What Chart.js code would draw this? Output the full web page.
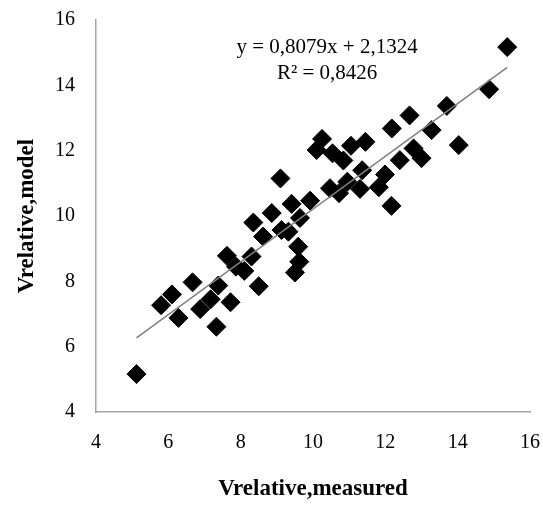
<!DOCTYPE html>
<html>
<head>
<meta charset="utf-8">
<script src="https://cdn.jsdelivr.net/npm/chart.js@4.4.1/dist/chart.umd.min.js"></script>
<style>
html, body { margin: 0; padding: 0; background: #fff; }
#wrap { width: 543px; height: 505px; }
</style>
</head>
<body>
<div id="wrap"><canvas id="scatter" width="543" height="505"></canvas></div>
<script>
// values
const measured = [5.12, 5.8, 6.1, 6.28, 6.67, 6.88, 7.17, 7.38, 7.33, 7.72,
    7.62, 7.87, 8.1, 8.3, 8.5, 8.35, 8.62, 8.86, 9.1, 9.13,
    9.32, 9.41, 9.64, 9.59, 9.62, 9.5, 9.92, 10.1, 10.25, 10.54,
    10.84, 11.05, 11.45, 10.47, 10.72, 10.95, 11.3, 11.36, 11.82, 11.99,
    12.17, 12.18, 12.4, 12.78, 13.0, 12.67, 13.28, 13.7, 14.03, 14.87, 15.37];
const model = [5.16, 7.27, 7.6, 6.88, 7.97, 7.15, 7.45, 7.87, 6.61, 7.36,
    8.78, 8.45, 8.32, 8.76, 7.85, 9.8, 9.37, 10.09, 11.15, 9.57,
    9.52, 10.37, 9.94, 9.06, 8.6, 8.27, 10.47, 12.02, 12.36, 11.92,
    11.7, 12.15, 12.27, 10.85, 10.7, 11.05, 10.83, 11.4, 10.88, 11.27,
    10.31, 12.68, 11.71, 12.07, 11.77, 13.08, 12.63, 13.37, 12.17, 13.88, 15.17];
const axisTicks = [4, 6, 8, 10, 12, 14, 16];
const slope = 0.8079;
const intercept = 2.1324;
const eqLines = ["y = 0,8079x + 2,1324", "R\u00b2 = 0,8426"];
const eqAnchor = [10.39, 15.17, 14.35]; // x, y of line 1, y of line 2 (data units)

const serif = "'Liberation Serif', 'Times New Roman', serif";

const points = measured.map((x, i) => ({ x: x, y: model[i] }));
const xMin = Math.min(...measured), xMax = Math.max(...measured);
const trend = [xMin, xMax].map(x => ({ x: x, y: slope * x + intercept }));

const equationLabel = {
    id: "equationLabel",
    afterDatasetsDraw(c) {
        const ctx = c.ctx;
        const xs = c.scales.x, ys = c.scales.y;
        ctx.save();
        ctx.fillStyle = "#000";
        ctx.font = "21px " + serif;
        ctx.textAlign = "center";
        ctx.textBaseline = "middle";
        ctx.fillText(eqLines[0], xs.getPixelForValue(eqAnchor[0]), ys.getPixelForValue(eqAnchor[1]));
        ctx.fillText(eqLines[1], xs.getPixelForValue(eqAnchor[0]), ys.getPixelForValue(eqAnchor[2]));
        ctx.restore();
    }
};

function axisOpts(title, isY) {
    return {
        type: "linear",
        min: axisTicks[0],
        max: axisTicks[axisTicks.length - 1],
        afterBuildTicks: s => { s.ticks = axisTicks.map(v => ({ value: v })); },
        afterFit: s => {
            if (isY) {
                s.width = 96;
                s.paddingTop = 0;
                s.paddingBottom = 0;
            } else {
                s.height = 93;
                s.paddingLeft = 0;
                s.paddingRight = 0;
            }
        },
        grid: { display: true, drawOnChartArea: false, drawTicks: false },
        border: { display: true, color: "#a6a6a6", width: 1.5 },
        ticks: {
            color: "#000",
            padding: isY ? 21 : 19,
            font: { family: serif, size: 20 },
            callback: v => String(v)
        },
        title: {
            display: true,
            text: title,
            color: "#000",
            font: { family: serif, size: 23, weight: "bold" },
            padding: isY ? { top: 13, bottom: 0 } : { top: 0, bottom: 2 }
        }
    };
}

const chart = new Chart(document.getElementById("scatter"), {
    type: "scatter",
    data: {
        datasets: [{
            type: "line",
            label: "trend",
            data: trend,
            borderColor: "#808080",
            borderWidth: 1.5,
            pointRadius: 0,
            fill: false
        }, {
            label: "points",
            data: points,
            pointStyle: "rectRot",
            pointRadius: 9.5,
            backgroundColor: "#000",
            borderColor: "#000",
            borderWidth: 1
        }]
    },
    options: {
        responsive: false,
        animation: false,
        layout: { padding: { top: 20, right: 13, left: 0, bottom: 0 } },
        scales: {
            x: axisOpts("Vrelative,measured", false),
            y: axisOpts("Vrelative,model", true)
        },
        plugins: { legend: { display: false }, tooltip: { enabled: false } }
    },
    plugins: [equationLabel]
});
</script>
</body>
</html>
